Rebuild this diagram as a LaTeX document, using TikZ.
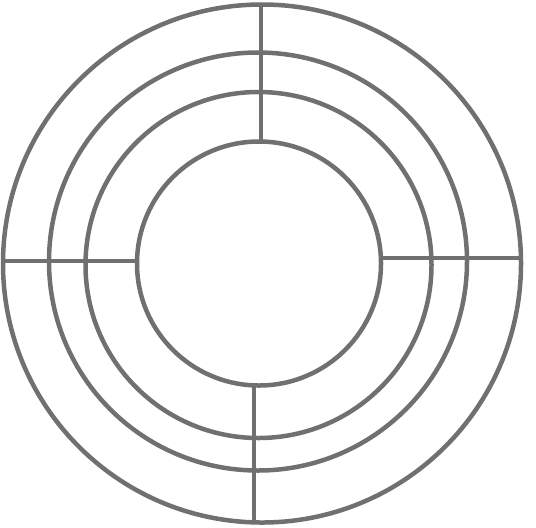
\documentclass[tikz,border=0pt]{standalone}
\usepackage{tikz}
\usetikzlibrary{calc}
\definecolor{wire}{RGB}{112,112,112}
\tikzset{ring/.style={draw=wire,line width=3.2pt}}

\begin{document}
\begin{tikzpicture}[x=0.025cm,y=-0.025cm]
\useasboundingbox (0,0) rectangle (536,527);
\coordinate (O1) at (262,263.5);
\coordinate (O2) at (258,261.5);
\coordinate (O3) at (258.5,265);
\coordinate (O4) at (259,263.5);
\draw[ring] (O1) circle[radius=259];
\draw[ring] (O2) circle[radius=209];
\draw[ring] (O3) circle[radius=173];
\draw[ring] (O4) circle[radius=122];
% spokes
\draw[ring] (261,5) -- (261,142);
\draw[ring] (4,261) -- (137,261);
\draw[ring] (382,258) -- (520,258);
\draw[ring] (254,385) -- (254,522);
\end{tikzpicture}
\end{document}
